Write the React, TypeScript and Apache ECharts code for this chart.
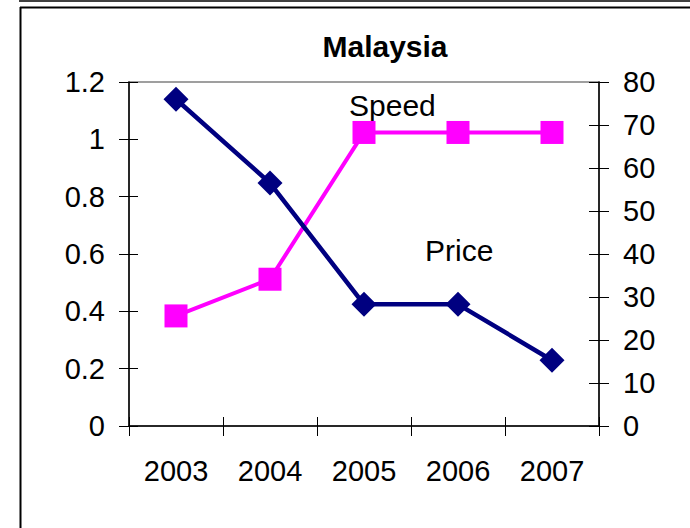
import React, { useEffect, useRef } from "react";
import * as echarts from "echarts";

const years = ["2003", "2004", "2005", "2006", "2007"];
const speedValues = [0.384, 0.512, 1.024, 1.024, 1.024];
const priceValues = [76, 56.5, 28.3, 28.3, 15.3];
const titleText = "Malaysia";
const speedName = "Speed";
const priceName = "Price";

const FONT = "'Liberation Sans', Arial, sans-serif";

export default function App() {
  const ref = useRef<HTMLDivElement>(null);
  useEffect(() => {
    if (!ref.current) return;
    const chart = echarts.init(ref.current, null, { renderer: "svg" });
    const labelStyle = { color: "#000", fontSize: 29, fontFamily: FONT };
    chart.setOption({
      animation: false,
      backgroundColor: "#fff",
      title: {
        text: titleText,
        left: 380,
        top: 26,
        textAlign: "center",
        textStyle: { fontFamily: FONT, fontWeight: "bold", fontSize: 30, color: "#000" },
      },
      grid: { left: 129, right: 91, top: 82, bottom: 102, show: true, borderColor: "#808080", borderWidth: 1.5 },
      xAxis: [
        {
          type: "category",
          data: years,
          boundaryGap: true,
          axisLine: { show: true, lineStyle: { color: "#000", width: 1.5 } },
          axisTick: { show: true, length: 10, lineStyle: { color: "#000", width: 1 } },
          axisLabel: { ...labelStyle, margin: 30 },
          splitLine: { show: false },
        },
        {
          type: "category",
          data: years,
          position: "bottom",
          boundaryGap: true,
          axisLine: { show: false },
          axisTick: { show: true, inside: true, length: 9, lineStyle: { color: "#000", width: 1 } },
          axisLabel: { show: false },
          splitLine: { show: false },
        },
      ],
      yAxis: [
        {
          type: "value",
          min: 0,
          max: 1.2,
          interval: 0.2,
          position: "left",
          axisLine: { show: true, lineStyle: { color: "#000", width: 1.5 } },
          axisTick: { show: true, length: 10, lineStyle: { color: "#000", width: 1 } },
          axisLabel: { ...labelStyle, margin: 24 },
          splitLine: { show: false },
        },
        {
          type: "value",
          min: 0,
          max: 80,
          interval: 10,
          position: "right",
          axisLine: { show: true, lineStyle: { color: "#000", width: 1.5 } },
          axisTick: { show: true, length: 10, lineStyle: { color: "#000", width: 1 } },
          axisLabel: { ...labelStyle, margin: 24 },
          splitLine: { show: false },
        },
        {
          type: "value",
          min: 0,
          max: 1.2,
          interval: 0.2,
          position: "left",
          axisLine: { show: false },
          axisTick: { show: true, inside: true, length: 9, lineStyle: { color: "#000", width: 1 } },
          axisLabel: { show: false },
          splitLine: { show: false },
        },
        {
          type: "value",
          min: 0,
          max: 80,
          interval: 10,
          position: "right",
          axisLine: { show: false },
          axisTick: { show: true, inside: true, length: 10, lineStyle: { color: "#000", width: 1 } },
          axisLabel: { show: false },
          splitLine: { show: false },
        },
      ],
      graphic: [
        { type: "rect", shape: { x: 19, y: 0, width: 671, height: 2 }, style: { fill: "#404040" }, silent: true },
        { type: "line", shape: { x1: 20, y1: 7.5, x2: 690, y2: 7.5 }, style: { stroke: "#000", lineWidth: 2 }, silent: true },
        { type: "line", shape: { x1: 20.5, y1: 7, x2: 20.5, y2: 528 }, style: { stroke: "#000", lineWidth: 2 }, silent: true },
        {
          type: "text",
          x: 349,
          y: 105,
          style: { text: speedName, fill: "#000", fontSize: 30, fontFamily: FONT, verticalAlign: "middle", align: "left" },
          silent: true,
        },
        {
          type: "text",
          x: 425,
          y: 250,
          style: { text: priceName, fill: "#000", fontSize: 30, fontFamily: FONT, verticalAlign: "middle", align: "left" },
          silent: true,
        },
      ],
      series: [
        {
          name: speedName,
          type: "line",
          xAxisIndex: 0,
          yAxisIndex: 0,
          data: speedValues,
          symbol: "rect",
          symbolSize: 23,
          showAllSymbol: true,
          lineStyle: { color: "#FF00FF", width: 4 },
          itemStyle: { color: "#FF00FF" },
        },
        {
          name: priceName,
          type: "line",
          xAxisIndex: 0,
          yAxisIndex: 1,
          data: priceValues,
          symbol: "diamond",
          symbolSize: 25,
          showAllSymbol: true,
          lineStyle: { color: "#000080", width: 4.5 },
          itemStyle: { color: "#000080" },
        },
      ],
    });
    return () => chart.dispose();
  }, []);
  return (
    <div
      ref={ref}
      style={{ position: "fixed", left: 0, top: 0, width: 690, height: 528 }}
    />
  );
}
